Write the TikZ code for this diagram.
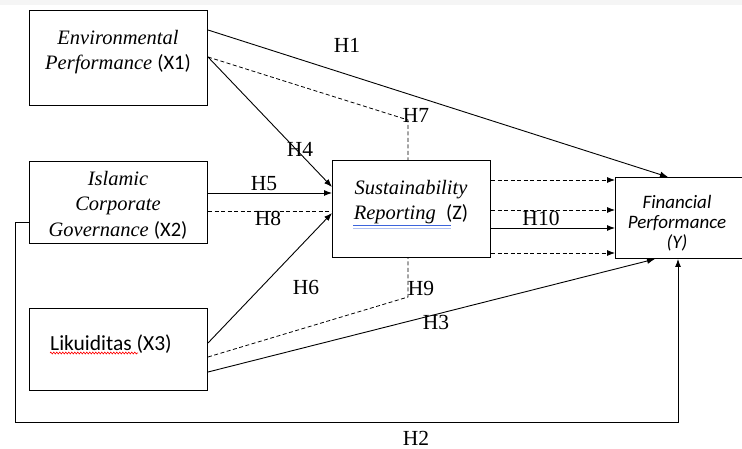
\documentclass[tikz,border=0pt]{standalone}
\usepackage{fontspec}
\setmainfont{Liberation Serif}
\newfontfamily\calib{Carlito}
\usetikzlibrary{arrows.meta,calc,decorations.pathmorphing}
\definecolor{spellblue}{RGB}{60,100,220}
\begin{document}
\begin{tikzpicture}[x=1pt,y=-1pt,
  boxx/.style={draw,line width=1pt,inner sep=0pt,anchor=north west},
  lbl/.style={font=\fontsize{21.5}{21.5}\selectfont,inner sep=0pt},
  con/.style={line width=0.9pt,-{Latex[length=8pt,width=6pt]}},
  dcon/.style={line width=0.8pt,dashed,dash pattern=on 4pt off 2.5pt},
  txt/.style={font=\fontsize{20.5}{25.5}\selectfont\itshape,align=center,inner sep=0pt}]
\useasboundingbox (0,0) rectangle (742,449);
\fill[black!4] (0,0) rectangle (742,5);
% boxes
\node[boxx,minimum width=178pt,minimum height=95pt] (X1) at (29,10) {};
\node[boxx,minimum width=178pt,minimum height=82pt] (X2) at (29,161) {};
\node[boxx,minimum width=178pt,minimum height=82pt] (X3) at (29,308) {};
\node[boxx,minimum width=158pt,minimum height=97pt] (Z) at (332,160) {};
\node[boxx,minimum width=140pt,minimum height=81pt] (Y) at (615,177) {};
% texts
\node[txt] (tX1) at (118,52) {Environmental\\Performance {\upshape\calib(X1)}};
\node[txt] (tX2) at (118,205) {Islamic\\Corporate\\Governance {\upshape\calib(X2)}};
\node[txt] (tZ) at (411,202) {Sustainability\\Reporting\ \ {\upshape\calib(Z)}};
\node[font=\fontsize{19}{20}\selectfont\calib\itshape,align=center,inner sep=0pt] (tY) at (677,223) {Financial\\Performance\\(Y)};
\node[font=\fontsize{21.5}{21.5}\selectfont\calib,inner sep=0pt] (tX3) at (111,344) {Likuiditas (X3)};
% spellcheck marks
\draw[spellblue,line width=1pt] (353,226) -- (451,226);
\draw[spellblue!40,line width=0.8pt] (353,228.5) -- (451,228.5);
\draw[red,line width=0.6pt,decorate,decoration={zigzag,amplitude=1pt,segment length=3pt}] (50,353) -- (138,353);
% coordinates
\coordinate (k7) at (408,120);
\coordinate (k9) at (408,297);
\coordinate (c2a) at (15,222);
\coordinate (c2b) at (15,422);
\coordinate (c2c) at (678,422);
% connectors
\draw[con] ($(X1.north east)+(0,20)$) -- ($(Y.north west)+(53,0)$);
\draw[dcon] ($(X1.north east)+(0,47)$) -- (k7) -- (k7 |- Z.north);
\draw[con] ($(X1.north east)+(0,47)$) -- ($(Z.north west)+(0,27)$);
\draw[con] ($(X2.north east)+(0,32)$) -- ($(Z.north west)+(0,33)$);
\draw[dcon] ($(X2.north east)+(0,50)$) -- ($(Z.north west)+(0,51)$);
\draw[con] ($(X3.north east)+(0,35)$) -- ($(Z.north west)+(0,53)$);
\draw[dcon] ($(X3.north east)+(0,49)$) -- (k9) -- (k9 |- Z.south);
\draw[con] ($(X3.north east)+(0,64)$) -- ($(Y.south west)+(40,0)$);
\draw[con] (X2.west |- c2a) -- (c2a) -- (c2b) -- (c2c) -- (c2c |- Y.south);
\draw[dcon,-{Latex[length=8pt,width=6pt]}] ($(Z.north east)+(0,20)$) -- ($(Y.north west)+(0,3)$);
\draw[dcon,-{Latex[length=8pt,width=6pt]}] ($(Z.north east)+(0,50)$) -- ($(Y.north west)+(0,33)$);
\draw[con] ($(Z.north east)+(0,68)$) -- ($(Y.north west)+(0,51)$);
\draw[dcon,-{Latex[length=8pt,width=6pt]}] ($(Z.north east)+(0,93)$) -- ($(Y.north west)+(0,76)$);
% labels
\node[lbl] (h1) at (347,45) {H1};
\node[lbl] (h2) at (416,438) {H2};
\node[lbl] (h3) at (436,322) {H3};
\node[lbl] (h4) at (300,149) {H4};
\node[lbl] (h5) at (264,184) {H5};
\node[lbl] (h6) at (306,287) {H6};
\node[lbl] (h7) at (416,115) {H7};
\node[lbl] (h8) at (268,218) {H8};
\node[lbl] (h9) at (421,288) {H9};
\node[lbl] (h10) at (541,218) {H10};
\end{tikzpicture}
\end{document}
